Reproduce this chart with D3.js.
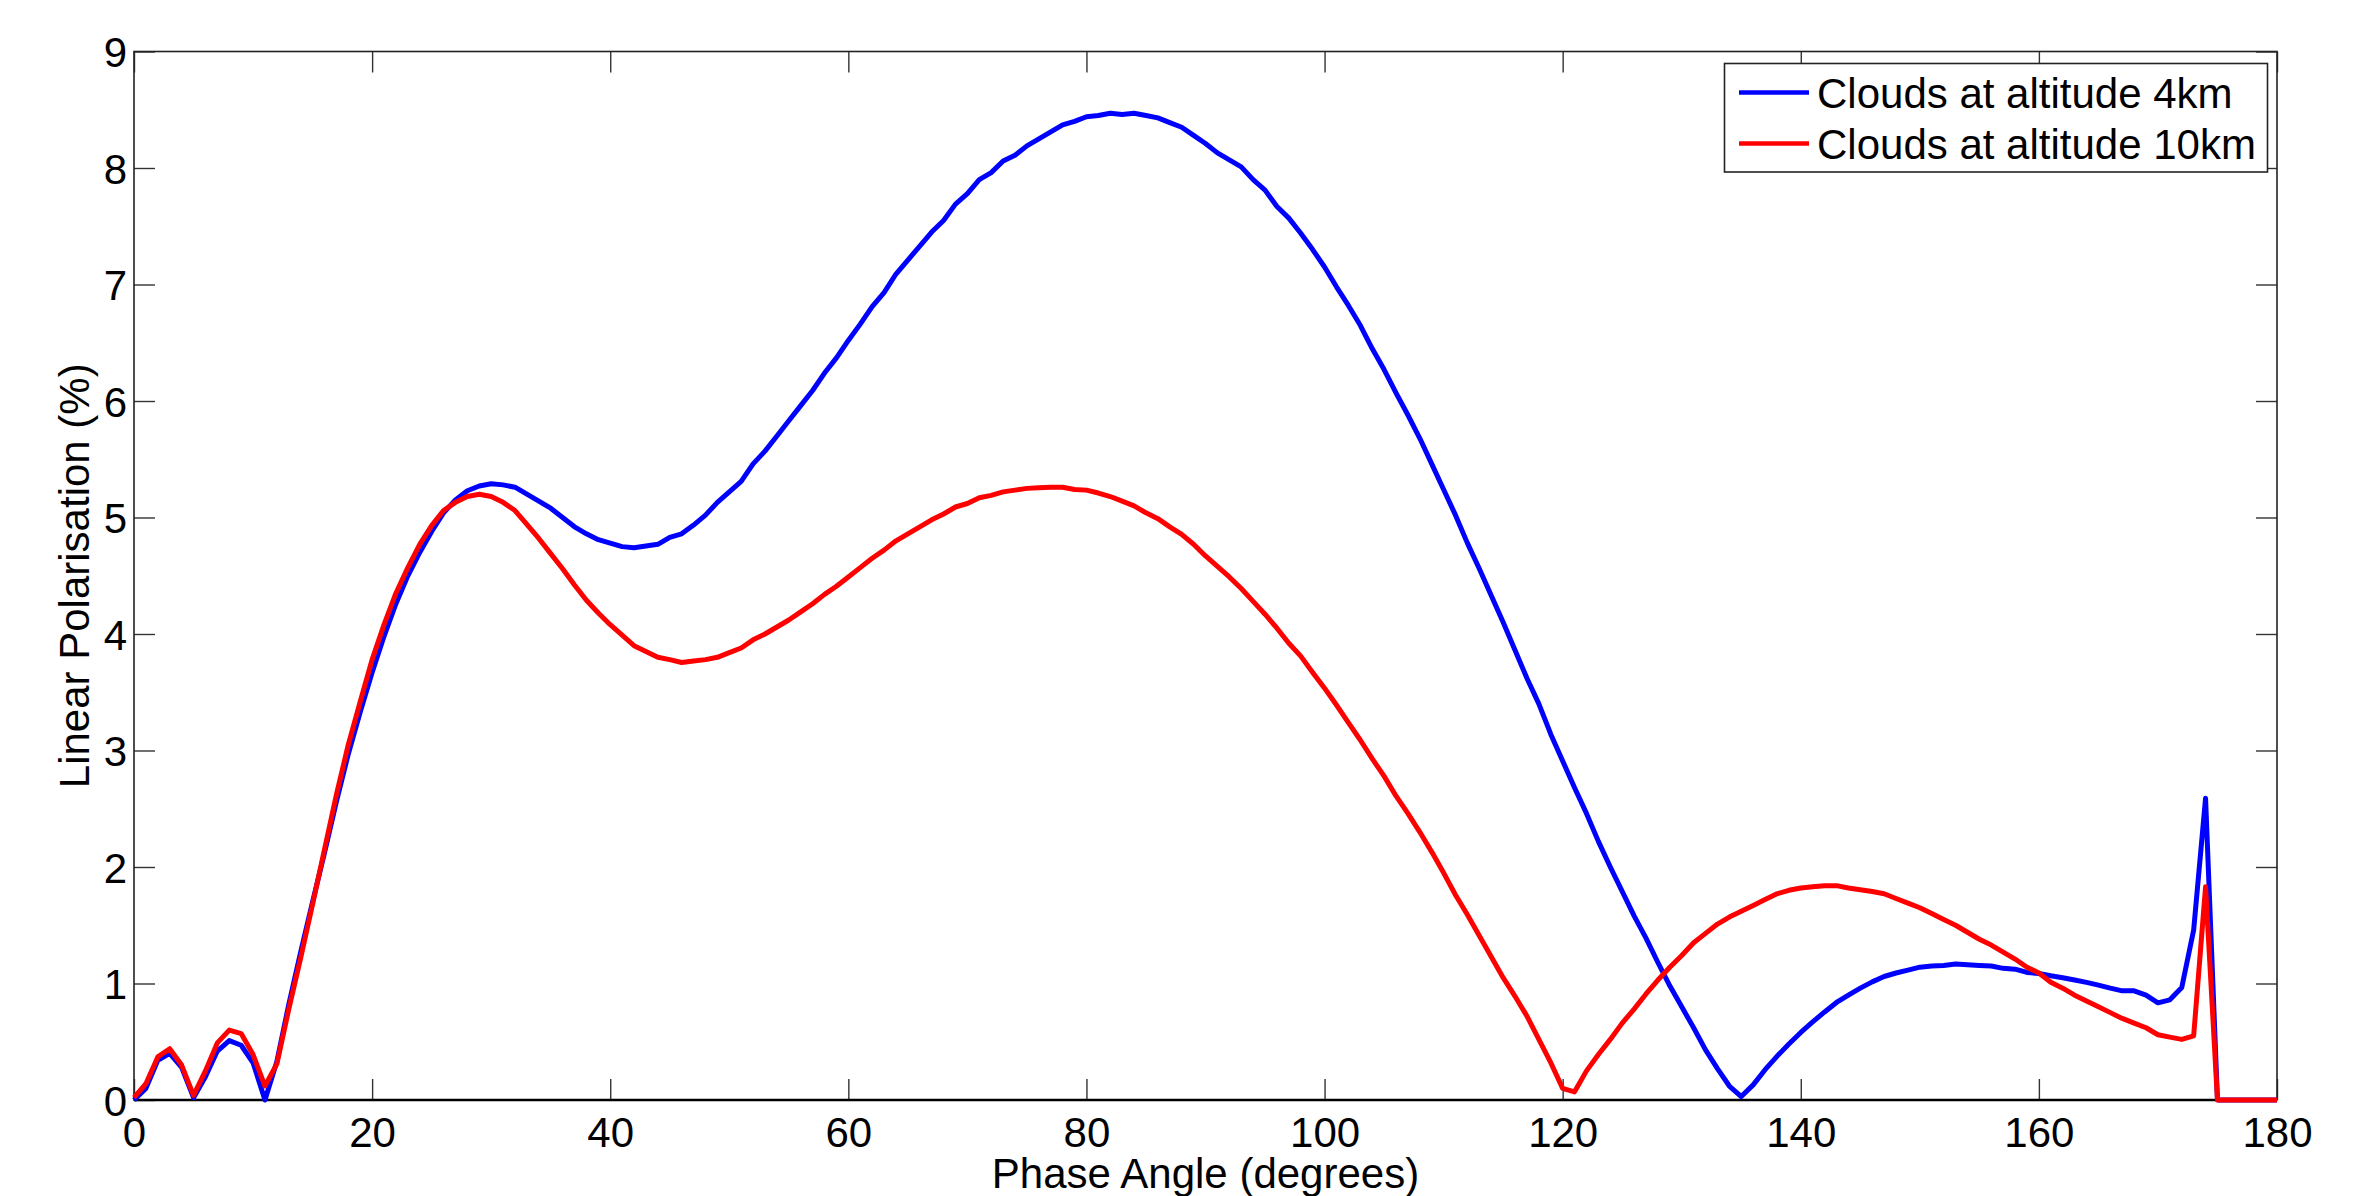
<!DOCTYPE html>
<html>
<head>
<meta charset="utf-8">
<script src="https://cdn.jsdelivr.net/npm/d3@7"></script>
<style>
  body { margin: 0; background: #fff; }
  svg { display: block; font-family: "Liberation Sans", Arial, Helvetica, sans-serif; }
</style>
</head>
<body>
<div id="chart"></div>
<script>
// phase angle samples (degrees), one per degree
const angles = d3.range(0, 181);

// linear polarisation (%)
const cloud4km = [
  0.00, 0.10, 0.34, 0.40, 0.28, 0.02, 0.20, 0.42, 0.51, 0.47,
  0.32, 0.00, 0.33, 0.82, 1.27, 1.70, 2.12, 2.56, 2.97, 3.33,
  3.67, 3.98, 4.26, 4.50, 4.70, 4.88, 5.04, 5.15, 5.23, 5.27,
  5.29, 5.28, 5.26, 5.20, 5.14, 5.08, 5.00, 4.92, 4.86, 4.81,
  4.78, 4.75, 4.74, 4.755, 4.77, 4.83, 4.86, 4.935, 5.02, 5.13,
  5.22, 5.31, 5.46, 5.57, 5.70, 5.83, 5.96, 6.09, 6.24, 6.37,
  6.52, 6.66, 6.81, 6.93, 7.09, 7.21, 7.33, 7.45, 7.55, 7.69,
  7.78, 7.90, 7.96, 8.06, 8.11, 8.19, 8.25, 8.31, 8.37, 8.40,
  8.44, 8.45, 8.47, 8.46, 8.47, 8.45, 8.43, 8.39, 8.35, 8.28,
  8.21, 8.13, 8.07, 8.01, 7.90, 7.81, 7.67, 7.57, 7.44, 7.30,
  7.15, 6.98, 6.82, 6.65, 6.45, 6.27, 6.07, 5.88, 5.68, 5.46,
  5.24, 5.02, 4.78, 4.56, 4.33, 4.10, 3.86, 3.62, 3.40, 3.14,
  2.91, 2.68, 2.46, 2.22, 2.00, 1.79, 1.58, 1.39, 1.18, 0.98,
  0.80, 0.62, 0.43, 0.27, 0.12, 0.03, 0.13, 0.26, 0.375, 0.48,
  0.58, 0.67, 0.756, 0.837, 0.90, 0.96, 1.014, 1.06, 1.09, 1.115,
  1.14, 1.15, 1.155, 1.167, 1.16, 1.155, 1.15, 1.13, 1.123, 1.095,
  1.086, 1.066, 1.05, 1.03, 1.01, 0.986, 0.96, 0.937, 0.937, 0.90,
  0.834, 0.86, 0.966, 1.46, 2.59, 0.00, 0.00, 0.00, 0.00, 0.00,
  0.00
];

const cloud10km = [
  0.02, 0.14, 0.37, 0.44, 0.30, 0.04, 0.25, 0.49, 0.60, 0.57,
  0.39, 0.12, 0.31, 0.78, 1.22, 1.68, 2.15, 2.62, 3.05, 3.42,
  3.78, 4.08, 4.35, 4.57, 4.77, 4.93, 5.06, 5.13, 5.18, 5.20,
  5.18, 5.13, 5.06, 4.94, 4.82, 4.69, 4.56, 4.42, 4.29, 4.18,
  4.08, 3.99, 3.90, 3.85, 3.80, 3.78, 3.755, 3.768, 3.78, 3.80,
  3.84, 3.88, 3.95, 4.00, 4.06, 4.12, 4.19, 4.26, 4.34, 4.41,
  4.49, 4.57, 4.65, 4.72, 4.80, 4.86, 4.92, 4.98, 5.03, 5.09,
  5.12, 5.17, 5.19, 5.22, 5.235, 5.25, 5.256, 5.26, 5.26, 5.24,
  5.235, 5.21, 5.18, 5.14, 5.10, 5.04, 4.99, 4.92, 4.855, 4.77,
  4.67, 4.58, 4.49, 4.39, 4.28, 4.17, 4.05, 3.92, 3.81, 3.67,
  3.535, 3.39, 3.24, 3.09, 2.93, 2.78, 2.61, 2.46, 2.30, 2.13,
  1.95, 1.76, 1.59, 1.41, 1.23, 1.05, 0.89, 0.72, 0.52, 0.32,
  0.10, 0.07, 0.25, 0.39, 0.52, 0.66, 0.78, 0.91, 1.03, 1.14,
  1.24, 1.35, 1.43, 1.51, 1.57, 1.62, 1.67, 1.72, 1.77, 1.80,
  1.82, 1.83, 1.84, 1.84, 1.82, 1.805, 1.79, 1.77, 1.73, 1.69,
  1.65, 1.60, 1.55, 1.50, 1.44, 1.38, 1.33, 1.27, 1.21, 1.14,
  1.09, 1.01, 0.96, 0.90, 0.85, 0.80, 0.75, 0.70, 0.66, 0.62,
  0.56, 0.54, 0.52, 0.55, 1.83, 0.00, 0.00, 0.00, 0.00, 0.00,
  0.00
];

const seriesNames = ["Clouds at altitude 4km", "Clouds at altitude 10km"];
const seriesColors = ["#0000ff", "#ff0000"];
const xTicks = [0, 20, 40, 60, 80, 100, 120, 140, 160, 180];
const yTicks = [0, 1, 2, 3, 4, 5, 6, 7, 8, 9];

const W = 2356, H = 1196;
const margin = {top: 51.5, right: 79, bottom: 96, left: 134};
const w = W - margin.left - margin.right,
      h = H - margin.top - margin.bottom;

const svg = d3.select("#chart").append("svg")
    .attr("width", W)
    .attr("height", H);

const g = svg.append("g").attr("transform", `translate(${margin.left},${margin.top})`);

const x = d3.scaleLinear().domain([0, 180]).range([0, w]);
const y = d3.scaleLinear().domain([0, 9]).range([h, 0]);

const tickLen = 21;

// ticks point inward on all four sides
const axBottom = g.append("g").attr("transform", `translate(0,${h})`)
    .call(d3.axisBottom(x).tickValues(xTicks).tickSizeInner(-tickLen).tickSizeOuter(0).tickPadding(17));
const axTop = g.append("g")
    .call(d3.axisTop(x).tickValues(xTicks).tickSizeInner(-tickLen).tickSizeOuter(0).tickFormat(""));
const axLeft = g.append("g")
    .call(d3.axisLeft(y).tickValues(yTicks).tickSizeInner(-tickLen).tickSizeOuter(0).tickPadding(7));
const axRight = g.append("g").attr("transform", `translate(${w},0)`)
    .call(d3.axisRight(y).tickValues(yTicks).tickSizeInner(-tickLen).tickSizeOuter(0).tickFormat(""));

[axBottom, axTop, axLeft, axRight].forEach(function(a){
  a.select(".domain").remove();
  a.selectAll(".tick line").attr("stroke", "#333").attr("stroke-width", 1.4);
  a.selectAll(".tick text")
    .attr("fill", "#000")
    .style("font-size", "42px")
    .style("font-family", "'Liberation Sans', Arial, Helvetica, sans-serif");
});
axLeft.selectAll(".tick text").attr("dy", "0.36em");

// axes box
g.append("rect")
    .attr("x", 0).attr("y", 0)
    .attr("width", w).attr("height", h)
    .attr("fill", "none")
    .attr("stroke", "#222")
    .attr("stroke-width", 1.6);
g.append("line")
    .attr("x1", 0).attr("x2", w)
    .attr("y1", h).attr("y2", h)
    .attr("stroke", "#000")
    .attr("stroke-width", 2.6);

// curves
const line = d3.line()
    .x(function(d){ return x(d[0]); })
    .y(function(d){ return y(d[1]); });

[cloud4km, cloud10km].forEach(function(vals, i){
  g.append("path")
    .datum(angles.map(function(a, j){ return [a, vals[j]]; }))
    .attr("fill", "none")
    .attr("stroke", seriesColors[i])
    .attr("stroke-width", 5)
    .attr("stroke-linejoin", "round")
    .attr("d", line);
});

// axis labels
svg.append("text")
    .attr("x", margin.left + w / 2)
    .attr("y", 1188)
    .attr("text-anchor", "middle")
    .style("font-size", "42px")
    .text("Phase Angle (degrees)");

svg.append("text")
    .attr("transform", `translate(89,${margin.top + h / 2}) rotate(-90)`)
    .attr("text-anchor", "middle")
    .style("font-size", "42px")
    .text("Linear Polarisation (%)");

// legend
const lg = svg.append("g").attr("class", "legend");
lg.append("rect")
    .attr("x", 1724.5).attr("y", 63.5)
    .attr("width", 543).attr("height", 108.5)
    .attr("fill", "#fff")
    .attr("stroke", "#222")
    .attr("stroke-width", 1.6);

const row = lg.selectAll(".row")
    .data(seriesNames)
    .enter().append("g").attr("class", "row")
    .attr("transform", function(d, i){ return `translate(0,${92.5 + i * 51})`; });

row.append("line")
    .attr("x1", 1739).attr("x2", 1809)
    .attr("y1", 0).attr("y2", 0)
    .attr("stroke", function(d, i){ return seriesColors[i]; })
    .attr("stroke-width", 4.5);

row.append("text")
    .attr("x", 1817)
    .attr("y", 0)
    .attr("dy", "0.36em")
    .style("font-size", "42px")
    .text(function(d){ return d; });
</script>
</body>
</html>
